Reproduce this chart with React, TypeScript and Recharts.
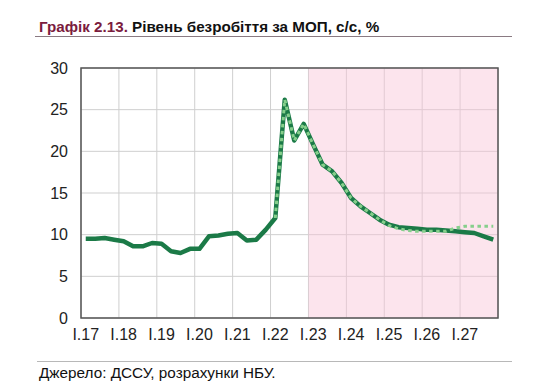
import React from 'react';
import { LineChart, Line, XAxis, YAxis, CartesianGrid, ReferenceArea } from 'recharts';

const years = ['17', '18', '19', '20', '21', '22', '23', '24', '25', '26', '27'];
const romans = ['I', 'II', 'III', 'IV'];
const quarterLabels: string[] = years.flatMap((y) => romans.map((r) => `${r}.${y}`));

// Unemployment rate, % (actual + baseline forecast)
const mainSeries: number[] = [
  9.5, 9.5, 9.6, 9.4, 9.2, 8.6, 8.6, 9.0, 8.9, 8.0, 7.8, 8.3,
  8.3, 9.8, 9.9, 10.1, 10.2, 9.3, 9.4, 10.6, 12.0, 26.2, 21.3, 23.3,
  20.8, 18.4, 17.6, 16.2, 14.4, 13.4, 12.6, 11.8, 11.2, 10.9, 10.8, 10.7,
  10.6, 10.6, 10.5, 10.4, 10.3, 10.2, 9.8, 9.4,
];
// Previous forecast (dotted)
const prevSeries: (number | null)[] = [
  null, null, null, null, null, null, null, null, null, null, null, null,
  null, null, null, null, null, null, null, null, 12.0, 26.2, 21.3, 23.3,
  20.8, 18.4, 17.6, 16.2, 14.4, 13.4, 12.6, 11.8, 11.1, 10.7, 10.5, 10.4,
  10.4, 10.4, 10.4, 10.8, 11.0, 11.0, 11.0, 11.0,
];
const yearTickLabels = ['I.17', 'I.18', 'I.19', 'I.20', 'I.21', 'I.22', 'I.23', 'I.24', 'I.25', 'I.26', 'I.27'];
const yTicks = [0, 5, 10, 15, 20, 25, 30];

const data = quarterLabels.map((q, i) => ({
  q,
  x: i + 0.5,
  main: mainSeries[i],
  prev: prevSeries[i],
}));

const xTicks = Array.from({ length: 12 }, (_, i) => i * 4);
const FONT = "Arial, 'Liberation Sans', sans-serif";
const PLOT_W = 417;
const HALF_BAND = PLOT_W / quarterLabels.length / 2;

const XTick = (props: any) => {
  const { x, y, payload } = props;
  const idx = Math.round(payload.value / 4);
  const label = yearTickLabels[idx];
  if (!label) return <g />;
  return (
    <text x={x + HALF_BAND} y={y} dy="0.71em" textAnchor="middle" fontSize={16} fill="#222" fontFamily={FONT}>
      {label}
    </text>
  );
};

export default function App() {
  return (
    <div style={{ position: 'absolute', left: 0, top: 0, width: 541, height: 390, background: '#fff', fontFamily: FONT }}>
      <div style={{ position: 'absolute', left: 39, top: 19, fontSize: 15.2, lineHeight: 1, fontWeight: 'bold', whiteSpace: 'nowrap', color: '#111' }}>
        <span style={{ color: '#7b1c3e' }}>Графік 2.13.</span> Рівень безробіття за МОП, с/с, %
      </div>
      <div style={{ position: 'absolute', left: 35, top: 36, width: 477, height: 1, background: '#8a7a82' }} />
      <div style={{ position: 'absolute', left: 0, top: 0 }}>
        <LineChart
          width={541}
          height={390}
          data={data}
          margin={{ top: 68, right: 43, bottom: 42, left: 41 }}
        >
          <CartesianGrid stroke="#cfcfcf" strokeWidth={1} />
          <ReferenceArea x1={24} x2={44} y1={0} y2={30} fill="#f9c4d8" fillOpacity={0.45} stroke="none" />
          <XAxis
            type="number"
            dataKey="x"
            domain={[0, 44]}
            ticks={xTicks}
            interval={0}
            tick={<XTick />}
            tickLine={false}
            tickSize={0}
            tickMargin={11}
            axisLine={false}
            height={30}
            allowDataOverflow
          />
          <YAxis
            type="number"
            domain={[0, 30]}
            ticks={yTicks}
            interval={0}
            tick={{ fontSize: 16, fill: '#222', fontFamily: FONT }}
            tickLine={false}
            tickSize={0}
            tickMargin={13}
            axisLine={false}
            width={40}
          />
          <Line
            type="linear"
            dataKey="main"
            stroke="#1b7a47"
            strokeWidth={4.5}
            dot={false}
            isAnimationActive={false}
            strokeLinejoin="round"
          />
          <Line
            type="linear"
            dataKey="prev"
            stroke="#86cf8c"
            strokeWidth={3}
            strokeDasharray="3.5 3.5"
            dot={false}
            connectNulls={false}
            isAnimationActive={false}
          />
          <ReferenceArea x1={0} x2={44} y1={0} y2={30} fill="none" stroke="#555" strokeWidth={1.5} />
        </LineChart>
      </div>
      <div style={{ position: 'absolute', left: 37, top: 361, width: 475, height: 1, background: '#b8b8b8' }} />
      <div style={{ position: 'absolute', left: 39, top: 365, fontSize: 15.3, lineHeight: 1, whiteSpace: 'nowrap', color: '#111' }}>
        Джерело: ДССУ, розрахунки НБУ.
      </div>
    </div>
  );
}
